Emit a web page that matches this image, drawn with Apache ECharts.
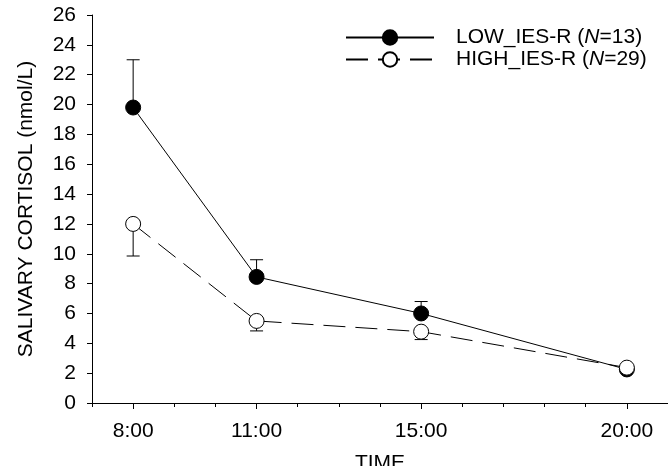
<!DOCTYPE html>
<html>
<head>
<meta charset="utf-8">
<script src="https://cdn.jsdelivr.net/npm/echarts@6/dist/echarts.min.js"></script>
<style>
  html, body { margin: 0; padding: 0; background: #fff; }
  #main { width: 668px; height: 466px; }
</style>
</head>
<body>
<div id="main"></div>
<script>
// time of sampling (hours) and their labels
var hours = [8, 11, 15, 20];
var hourLabels = ['8:00', '11:00', '15:00', '20:00'];

var groupNames = ['LOW_IES-R', 'HIGH_IES-R'];
var groupN = [13, 29];

// LOW group: mean and upper error bar end
var lowMean = [19.8, 8.45, 6.0, 2.25];
var lowUpper = [23.0, 9.6, 6.8, 2.5];

// HIGH group: mean and lower error bar end
var highMean = [12.0, 5.5, 4.78, 2.37];
var highLower = [9.85, 4.83, 4.25, 2.15];

var yTicks = [0, 2, 4, 6, 8, 10, 12, 14, 16, 18, 20, 22, 24, 26];

var FONT = "'Liberation Sans', Arial, sans-serif";
var FS = 21;

function pairs(xs, ys) {
  return xs.map(function (x, i) { return [x, ys[i]]; });
}
function errData(xs, from, to) {
  return xs.map(function (x, i) { return [x, from[i], to[i]]; });
}

function renderErr(params, api) {
  var p0 = api.coord([api.value(0), api.value(1)]);
  var p1 = api.coord([api.value(0), api.value(2)]);
  var half = 6.5;
  var st = { stroke: '#000', lineWidth: 1 };
  return {
    type: 'group',
    children: [
      { type: 'line', shape: { x1: p0[0], y1: p0[1], x2: p1[0], y2: p1[1] }, style: st },
      { type: 'line', shape: { x1: p1[0] - half, y1: p1[1], x2: p1[0] + half, y2: p1[1] }, style: st }
    ]
  };
}

var chart = echarts.init(document.getElementById('main'), null, { renderer: 'canvas' });

var option = {
  animation: false,
  textStyle: { fontFamily: FONT, color: '#000' },
  grid: { left: 92, right: 0, top: 15, bottom: 63, outerBoundsMode: 'none', containLabel: false },
  legend: {
    orient: 'vertical',
    left: 345,
    top: 27,
    padding: 0,
    itemWidth: 88,
    itemHeight: 18,
    itemGap: 1,
    data: groupNames,
    formatter: function (name) {
      var i = groupNames.indexOf(name);
      return '{a|' + name + ' (}{i|N}{a|=' + groupN[i] + ')}';
    },
    textStyle: {
      padding: [0, 0, 0, 17],
      rich: {
        a: { fontSize: FS, fontFamily: FONT, color: '#000', lineHeight: 21 },
        i: { fontSize: FS, fontFamily: FONT, color: '#000', fontStyle: 'italic', lineHeight: 21 }
      }
    }
  },
  xAxis: [{
    type: 'value',
    min: 7,
    max: 21,
    interval: 1,
    name: 'TIME',
    nameLocation: 'middle',
    nameGap: 50,
    nameTextStyle: { fontSize: FS, fontFamily: FONT, color: '#000' },
    splitLine: { show: false },
    axisLine: { lineStyle: { color: '#000', width: 1 } },
    axisTick: { length: 4, lineStyle: { color: '#000' } },
    axisLabel: { show: false }
  }, {
    type: 'value',
    min: 7,
    max: 21,
    position: 'bottom',
    splitLine: { show: false },
    axisLine: { show: false },
    axisTick: { customValues: hours, length: 6, lineStyle: { color: '#000' } },
    axisLabel: {
      customValues: hours,
      margin: 18,
      fontSize: FS,
      fontFamily: FONT,
      color: '#000',
      formatter: function (v) { return hourLabels[hours.indexOf(v)] || ''; }
    }
  }],
  yAxis: {
    type: 'value',
    min: 0,
    max: 26,
    interval: 2,
    name: 'SALIVARY CORTISOL (nmol/L)',
    nameLocation: 'middle',
    nameGap: 55,
    nameTextStyle: { fontSize: FS, fontFamily: FONT, color: '#000' },
    splitLine: { show: false },
    axisLine: { show: true, lineStyle: { color: '#000', width: 1 } },
    axisTick: { show: true, length: 5, lineStyle: { color: '#000' } },
    axisLabel: {
      margin: 16,
      fontSize: FS,
      fontFamily: FONT,
      color: '#000',
      customValues: yTicks
    }
  },
  series: [{
    type: 'custom',
    name: 'lowErr',
    xAxisIndex: 0,
    renderItem: renderErr,
    data: errData(hours, lowMean, lowUpper),
    z: 1,
    silent: true
  }, {
    type: 'custom',
    name: 'highErr',
    xAxisIndex: 0,
    renderItem: renderErr,
    data: errData(hours, highMean, highLower),
    z: 1,
    silent: true
  }, {
    name: groupNames[0],
    type: 'line',
    xAxisIndex: 0,
    data: pairs(hours, lowMean),
    symbol: 'circle',
    symbolSize: 15,
    lineStyle: { color: '#000', width: 1 },
    itemStyle: { color: '#000', borderColor: '#000', borderWidth: 1 },
    z: 3
  }, {
    name: groupNames[1],
    type: 'line',
    xAxisIndex: 0,
    data: pairs(hours, highMean),
    symbol: 'circle',
    symbolSize: 15,
    lineStyle: { color: '#000', width: 1, type: [22, 10] },
    itemStyle: { color: '#fff', borderColor: '#000', borderWidth: 1 },
    z: 4
  }]
};

chart.setOption(option);
</script>
</body>
</html>
